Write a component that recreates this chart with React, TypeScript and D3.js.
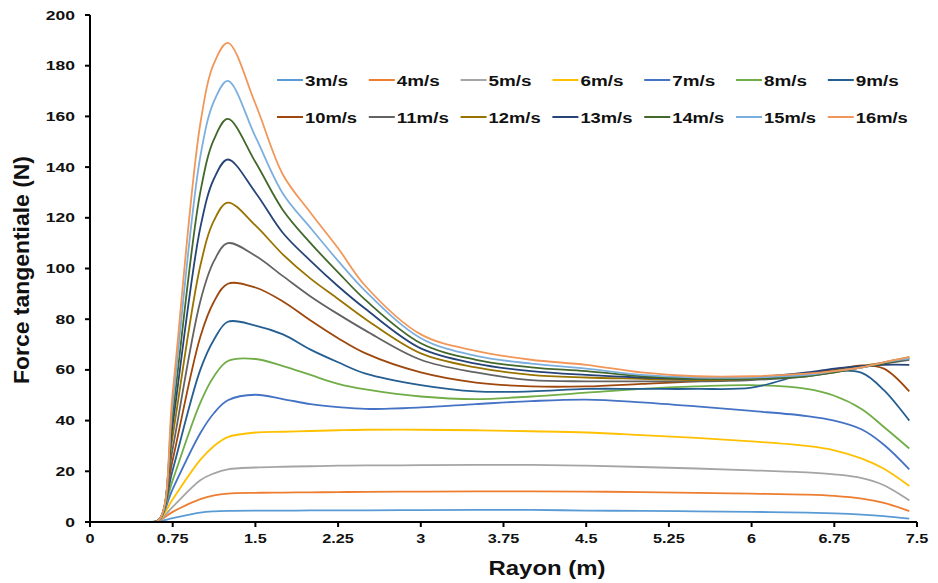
import React from "react";
import * as d3 from "d3";

const radius = [0.5, 0.625, 0.75, 1.0, 1.125, 1.25, 1.5, 1.75, 2.0, 2.25, 2.5, 3.0, 3.5, 4.0, 4.5, 5.0, 5.5, 6.0, 6.5, 6.75, 7.0, 7.2, 7.43];

const seriesNames = ["3m/s", "4m/s", "5m/s", "6m/s", "7m/s", "8m/s", "9m/s", "10m/s", "11m/s", "12m/s", "13m/s", "14m/s", "15m/s", "16m/s"];
const seriesColors = ["#5B9BD5", "#ED7D31", "#A5A5A5", "#FFC000", "#4472C4", "#70AD47", "#255E91", "#9E480E", "#636363", "#997300", "#264478", "#43682B", "#7CAFDD", "#F1975A"];

const v3 = [0, 0.3, 1.5, 3.7, 4.2, 4.4, 4.5, 4.5, 4.55, 4.6, 4.6, 4.7, 4.75, 4.8, 4.5, 4.4, 4.2, 4.0, 3.7, 3.4, 2.9, 2.3, 1.3];
const v4 = [0, 0.5, 4, 9, 10.5, 11.2, 11.5, 11.6, 11.7, 11.8, 11.9, 12, 12.1, 12.1, 12, 11.8, 11.5, 11.2, 10.8, 10.3, 9.2, 7.5, 4.3];
const v5 = [0, 0.6, 6, 16.5, 19.2, 20.8, 21.5, 21.8, 22, 22.2, 22.3, 22.4, 22.5, 22.5, 22.2, 21.7, 21.1, 20.4, 19.6, 18.8, 17.3, 14.5, 8.5];
const v6 = [0, 0.7, 9, 24.5, 30, 33.5, 35.3, 35.6, 35.9, 36.2, 36.4, 36.4, 36.2, 35.8, 35.3, 34.3, 33.2, 31.8, 30, 28.3, 25, 21, 14.2];
const v7 = [0, 0.8, 13, 35, 43, 48, 50.2, 48.5, 46.5, 45.3, 44.6, 45.2, 46.5, 47.7, 48.3, 47.2, 45.6, 43.8, 41.8, 40, 36.5, 30.5, 20.8];
const v8 = [0, 0.8, 16.5, 47, 57.5, 63.5, 64.3, 61.5, 58, 54.5, 52.3, 49.5, 48.5, 49.5, 51, 52.5, 53.5, 54, 52.5, 49.8, 44.5, 37.5, 29];
const v9 = [0, 0.8, 20.5, 60, 72, 79, 77.5, 74, 68, 63, 58.5, 54, 51.5, 51.5, 52.5, 52.5, 52.5, 53, 58.5, 59.6, 58.8, 52, 40];
const v10 = [0, 0.8, 24.5, 73, 87, 94, 92.5, 87, 79.5, 72.5, 66.5, 59, 55, 53.5, 53.5, 54.5, 55.5, 57, 58.5, 60, 61.8, 60.5, 51.5];
const v11 = [0, 0.8, 29, 87, 103, 110, 105, 97, 89, 82, 75.5, 64, 59, 56, 55.5, 55.5, 55.5, 56, 57.5, 59, 61, 62.5, 64];
const v12 = [0, 0.8, 34, 101, 119, 126, 117, 105.5, 96, 88, 80, 66.5, 61, 58, 57, 56.5, 56, 56.5, 58, 59.5, 61.5, 63, 65];
const v13 = [0, 0.8, 38.5, 116, 135.5, 143, 130, 114, 103, 93, 84, 68.5, 62.5, 59.5, 58, 57, 56.5, 57, 59, 60.5, 61.5, 62, 62];
const v14 = [0, 0.8, 42.5, 130, 151, 159, 142, 123, 110, 98.5, 87.5, 70.5, 64, 61, 59.5, 57.5, 56.5, 56.5, 57.5, 59, 61, 62.5, 64.5];
const v15 = [0, 0.8, 47, 144, 166, 174, 152, 129.5, 116, 103, 91, 72.5, 65.5, 62.5, 60.5, 58, 57, 57, 58, 59.5, 61, 63, 64.5];
const v16 = [0, 0.8, 51, 157, 181, 189, 165, 137, 122, 108, 93, 74, 67.5, 64, 62, 59, 57.5, 57.5, 58.5, 59.5, 61, 63, 65];

const seriesValues = [v3, v4, v5, v6, v7, v8, v9, v10, v11, v12, v13, v14, v15, v16];

const xTicks = [0, 0.75, 1.5, 2.25, 3, 3.75, 4.5, 5.25, 6, 6.75, 7.5];
const xTickLabels = ["0", "0.75", "1.5", "2.25", "3", "3.75", "4.5", "5.25", "6", "6.75", "7.5"];
const yTicks = [0, 20, 40, 60, 80, 100, 120, 140, 160, 180, 200];

const W = 938;
const H = 583;
const FONT = "'Liberation Sans', Arial, sans-serif";

function textW(s: string, size: number, stretch: number) {
  let w = 0;
  for (const c of s) {
    if (c >= "0" && c <= "9") w += 0.556;
    else if (c === ".") w += 0.278;
    else w += 0.556;
  }
  return w * size * stretch;
}

export default function App() {
  const x = d3.scaleLinear().domain([0, 7.5]).range([90, 917]);
  const y = d3.scaleLinear().domain([0, 200]).range([522, 15]);
  const line = d3
    .line<[number, number]>()
    .x((d) => x(d[0]))
    .y((d) => y(d[1]))
    .curve(d3.curveCatmullRom.alpha(0.5));

  const legendX0 = 277;
  const legendStep = 91.8;
  const legendRows = [80, 117];

  return (
    <div style={{ position: "absolute", left: 0, top: 0 }}>
      <svg width={W} height={H} style={{ display: "block", background: "#fff" }} fontFamily={FONT}>
        <defs>
          <clipPath id="plot">
            <rect x={90} y={0} width={W - 90} height={y(0)} />
          </clipPath>
        </defs>
        <g clipPath="url(#plot)">
          {seriesValues.map((vals, i) => (
            <path
              key={seriesNames[i]}
              d={line(radius.map((r, k) => [r, vals[k]] as [number, number])) || ""}
              fill="none"
              stroke={seriesColors[i]}
              strokeWidth={1.8}
            />
          ))}
        </g>
        <line x1={x(0)} x2={x(7.5)} y1={y(0)} y2={y(0)} stroke="#000" strokeWidth={2} />
        <line x1={x(0)} x2={x(0)} y1={y(0) + 1} y2={y(200)} stroke="#000" strokeWidth={2} />
        {yTicks.map((t) => (
          <g key={"y" + t}>
            <line x1={x(0) - 5} x2={x(0)} y1={y(t)} y2={y(t)} stroke="#000" strokeWidth={2} />
            <text
              x={75}
              y={y(t) + 4.5}
              textAnchor="end"
              fontSize={12.5}
              fontWeight="bold"
              fill="#111"
              textLength={textW(String(t), 12.5, 1.4)}
              lengthAdjust="spacingAndGlyphs"
            >
              {t}
            </text>
          </g>
        ))}
        {xTicks.map((t, i) => (
          <g key={"x" + t}>
            <line x1={x(t)} x2={x(t)} y1={y(0)} y2={y(0) + 5} stroke="#000" strokeWidth={2} />
            <text
              x={x(t)}
              y={543}
              textAnchor="middle"
              fontSize={12.5}
              fontWeight="bold"
              fill="#111"
              textLength={textW(xTickLabels[i], 12.5, 1.3)}
              lengthAdjust="spacingAndGlyphs"
            >
              {xTickLabels[i]}
            </text>
          </g>
        ))}
        <text
          x={547}
          y={575}
          textAnchor="middle"
          fontSize={21}
          fontWeight="bold"
          fill="#111"
          textLength={117}
          lengthAdjust="spacingAndGlyphs"
        >
          Rayon (m)
        </text>
        <text
          transform={`translate(29, ${270}) rotate(-90)`}
          textAnchor="middle"
          fontSize={22}
          fontWeight="bold"
          fill="#111"
          textLength={228}
          lengthAdjust="spacingAndGlyphs"
        >
          Force tangentiale (N)
        </text>
        {seriesNames.map((name, i) => {
          const row = i < 7 ? 0 : 1;
          const col = i % 7;
          const lx = legendX0 + col * legendStep;
          const ly = legendRows[row];
          return (
            <g key={"lg" + name}>
              <line x1={lx} x2={lx + 26} y1={ly} y2={ly} stroke={seriesColors[i]} strokeWidth={2} />
              <text
                x={lx + 28}
                y={ly + 5.5}
                fontSize={14.5}
                fontWeight="bold"
                fill="#111"
                textLength={name.length === 4 ? 43 : 52}
                lengthAdjust="spacingAndGlyphs"
              >
                {name}
              </text>
            </g>
          );
        })}
      </svg>
    </div>
  );
}
